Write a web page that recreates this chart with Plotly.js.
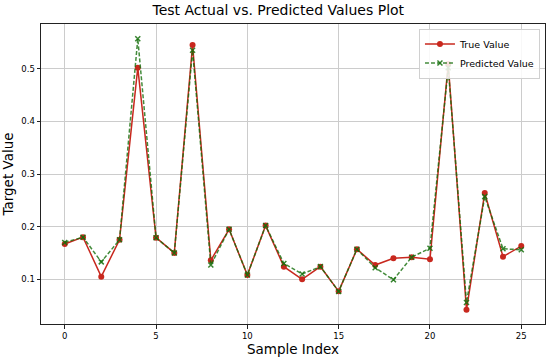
<!DOCTYPE html>
<html><head><meta charset="utf-8">
<script src="https://cdn.plot.ly/plotly-3.0.1.min.js"></script>
<style>html,body{margin:0;padding:0;background:#fff;}</style>
</head><body><div id="chart" style="width:550px;height:359px;"></div>
<script>
const sampleIndex = [0,1,2,3,4,5,6,7,8,9,10,11,12,13,14,15,16,17,18,19,20,21,22,23,24,25];
const trueValues = [0.167,0.180,0.105,0.175,0.502,0.179,0.150,0.545,0.136,0.195,0.108,0.202,0.124,0.100,0.124,0.077,0.157,0.127,0.140,0.142,0.138,0.509,0.042,0.264,0.143,0.163];
const predValues = [0.170,0.180,0.133,0.175,0.557,0.179,0.150,0.535,0.127,0.195,0.108,0.202,0.130,0.110,0.124,0.077,0.157,0.122,0.099,0.142,0.159,0.502,0.056,0.257,0.158,0.156];
const xTicks = [0,5,10,15,20,25];
const yTicks = [0.1,0.2,0.3,0.4,0.5];

const font = "DejaVu Sans, sans-serif";
const traces = [
  {x: sampleIndex, y: trueValues, name: 'True Value', mode: 'lines+markers',
   line: {color: '#c8281e', width: 1.5},
   marker: {symbol: 'circle', size: 6, color: '#c8281e'}},
  {x: sampleIndex, y: predValues, name: 'Predicted Value', mode: 'lines+markers',
   line: {color: 'rgba(20,110,10,0.8)', width: 1.5, dash: '4px,2px'},
   marker: {symbol: 'x-thin-open', size: 5, color: 'rgba(20,110,10,0.85)', line: {width: 1.5, color: 'rgba(20,110,10,0.85)'}}}
];
const axisCommon = {
  showline: true, linecolor: '#222', linewidth: 1, mirror: true,
  ticks: 'outside', ticklen: 3.5, tickcolor: '#222',
  showgrid: true, gridcolor: '#cccccc', gridwidth: 1, zeroline: false,
  tickfont: {family: font, size: 8.5, color: '#000'}
};
const layout = {
  width: 550, height: 359,
  margin: {l: 41, r: 5, t: 24, b: 35},
  paper_bgcolor: '#fff', plot_bgcolor: '#fff',
  title: {text: 'Test Actual vs. Predicted Values Plot', font: {family: font, size: 14, color: '#000'},
          x: 0.506, xanchor: 'center', y: 0.985, yanchor: 'top'},
  xaxis: Object.assign({}, axisCommon, {range: [-1.3, 26.3], tickvals: xTicks,
    title: {text: 'Sample Index', font: {family: font, size: 13.5, color: '#000'}, standoff: 3}}),
  yaxis: Object.assign({}, axisCommon, {range: [0.015, 0.585], tickvals: yTicks,
    title: {text: 'Target Value', font: {family: font, size: 13.5, color: '#000'}, standoff: 6}}),
  showlegend: true,
  legend: {x: 0.99, y: 0.985, xanchor: 'right', yanchor: 'top', bgcolor: 'rgba(255,255,255,0.85)',
           bordercolor: '#d0d0d0', borderwidth: 1, font: {family: font, size: 9.5, color: '#000'},
           tracegroupgap: 0, itemwidth: 30}
};
Plotly.newPlot('chart', traces, layout, {displayModeBar: false, staticPlot: true});
</script></body></html>
